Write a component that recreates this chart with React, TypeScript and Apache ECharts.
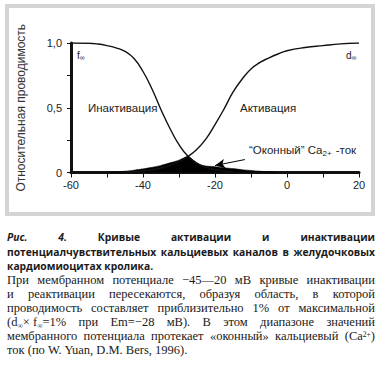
import React, { useEffect, useRef } from "react";
import * as echarts from "echarts";

// ---- data ----
const voltF = [-60, -55, -52.5, -50, -47.5, -45, -42.5, -40, -37.5, -35, -32.5, -30, -27.5, -25, -22.5, -20, -17.5, -15];
const inactivation = [1.0, 0.998, 0.992, 0.98, 0.963, 0.935, 0.88, 0.78, 0.645, 0.485, 0.34, 0.215, 0.125, 0.07, 0.04, 0.022, 0.012, 0.006];

const voltD = [-45, -40, -35, -32.5, -30, -27.5, -25, -22.5, -20, -17.5, -15, -12.5, -10, -7.5, -5, -2.5, 0, 5, 10, 15, 20];
const activation = [0.003, 0.012, 0.035, 0.055, 0.085, 0.125, 0.18, 0.26, 0.37, 0.49, 0.62, 0.72, 0.8, 0.85, 0.885, 0.915, 0.94, 0.965, 0.98, 0.993, 1.0];

const voltW = [-50, -47.5, -45, -42.5, -40, -37.5, -35, -32.5, -30, -27.5, -26, -25, -24, -22.5, -20, -17.5, -15, -12.5, -10, -7.5, -5, -2.5];
const windowCurrent = [0, 0.004, 0.01, 0.018, 0.028, 0.04, 0.055, 0.075, 0.095, 0.125, 0.095, 0.075, 0.06, 0.05, 0.045, 0.037, 0.03, 0.022, 0.016, 0.01, 0.005, 0];

const arrowFrom = [-11.7, 0.1];
const arrowTo = [-20, 0.054];

const xLabels = ["-60", "-40", "-20", "0", "20"];
const yLabels: Record<string, string> = { "0": "0", "0.5": "0,5", "1": "1,0" };

const yAxisTitle = "Относительная проводимость";
const labelInact = "Инактивация";
const labelAct = "Активация";

const titleLines: string[][] = [
  ["*Рис.", "*4.", "Кривые", "активации", "и", "инактивации"],
  ["потенциалчувствительных", "кальциевых", "каналов", "в", "желудочковых"],
];
const titleLast = "кардиомиоцитах кролика.";

const bodyLines: string[][] = [
  ["При", "мембранном", "потенциале", "−45—20", "мВ", "кривые", "инактивации"],
  ["и", "реактивации", "пересекаются,", "образуя", "область,", "в", "которой"],
  ["проводимость", "составляет", "приблизительно", "1%", "от", "максимальной"],
  ["(d_{∞}× f_{∞}=1%", "при", "Em=−28", "мВ).", "В", "этом", "диапазоне", "значений"],
  ["мембранного", "потенциала", "протекает", "«оконный»", "кальциевый", "(Ca^{2+})"],
];
const bodyLast = "ток (по W. Yuan, D.M. Bers, 1996).";

const SANS = "'Liberation Sans', Arial, Helvetica, sans-serif";

function renderWord(w: string) {
  const parts = w.split(/(_\{[^}]*\}|\^\{[^}]*\})/).filter((p) => p.length > 0);
  return parts.map((p, i) => {
    if (p.startsWith("_{"))
      return (
        <span key={i} style={{ fontSize: "0.6em", position: "relative", top: "0.2em" }}>
          {p.slice(2, -1)}
        </span>
      );
    if (p.startsWith("^{"))
      return (
        <span key={i} style={{ fontSize: "0.6em", position: "relative", top: "-0.35em" }}>
          {p.slice(2, -1)}
        </span>
      );
    return <React.Fragment key={i}>{p}</React.Fragment>;
  });
}

function Chart() {
  const ref = useRef<HTMLDivElement>(null);
  useEffect(() => {
    if (!ref.current) return;
    const chart = echarts.init(ref.current, null, { renderer: "svg" });
    const toPairs = (xs: number[], ys: number[]) => xs.map((x, i) => [x, ys[i]]);
    chart.setOption({
      animation: false,
      backgroundColor: "#ffffff",
      grid: { left: 71, right: 22, top: 43, bottom: 195.5, containLabel: false },
      xAxis: {
        type: "value",
        min: -60,
        max: 20,
        interval: 10,
        axisLine: { show: true, onZero: false, lineStyle: { color: "#111", width: 3 } },
        axisTick: { show: true, inside: false, length: 5, lineStyle: { color: "#111", width: 1 } },
        splitLine: { show: false },
        axisLabel: {
          margin: 7,
          color: "#222",
          fontSize: 11,
          fontFamily: SANS,
          formatter: (v: number) => (xLabels.includes(String(v)) ? String(v) : ""),
        },
      },
      yAxis: {
        type: "value",
        min: 0,
        max: 1,
        interval: 0.25,
        name: yAxisTitle,
        nameLocation: "middle",
        nameGap: 44,
        nameTextStyle: { color: "#333", fontSize: 12, fontFamily: SANS },
        axisLine: { show: true, onZero: false, lineStyle: { color: "#111", width: 3 } },
        axisTick: { show: true, inside: false, length: 4, lineStyle: { color: "#111", width: 1 } },
        splitLine: { show: false },
        axisLabel: {
          margin: 9,
          color: "#222",
          fontSize: 11,
          fontFamily: SANS,
          formatter: (v: number) => yLabels[String(v)] ?? "",
        },
      },
      series: [
        {
          type: "line",
          data: toPairs(voltW, windowCurrent),
          smooth: 0.2,
          symbol: "none",
          lineStyle: { width: 0.5, color: "#000" },
          areaStyle: { color: "#000", opacity: 1 },
          z: 3,
          markLine: {
            silent: true,
            symbol: ["none", "arrow"],
            symbolSize: [7, 10],
            label: { show: false },
            lineStyle: { color: "#000", width: 1, type: "solid" },
            data: [[{ coord: arrowFrom }, { coord: arrowTo }]],
          },
        },
        {
          type: "line",
          data: toPairs(voltF, inactivation),
          smooth: true,
          symbol: "none",
          lineStyle: { width: 1.4, color: "#111" },
          z: 4,
        },
        {
          type: "line",
          data: toPairs(voltD, activation),
          smooth: true,
          symbol: "none",
          lineStyle: { width: 1.4, color: "#111" },
          z: 4,
        },
      ],
      graphic: [
        {
          type: "rect",
          shape: { x: 7, y: 6, width: 366, height: 208 },
          style: { fill: "none", stroke: "#d4d4d4", lineWidth: 4 },
          silent: true,
        },
        {
          type: "text",
          x: 77,
          y: 55,
          style: {
            text: "{a|f}{s|∞}",
            verticalAlign: "middle",
            rich: {
              a: { fontSize: 10, fontFamily: SANS, fill: "#222" },
              s: { fontSize: 7, fontFamily: SANS, fill: "#222", padding: [4, 0, 0, 0] },
            },
          },
        },
        {
          type: "text",
          x: 346,
          y: 55,
          style: {
            text: "{a|d}{s|∞}",
            verticalAlign: "middle",
            rich: {
              a: { fontSize: 10, fontFamily: SANS, fill: "#222" },
              s: { fontSize: 7, fontFamily: SANS, fill: "#222", padding: [4, 0, 0, 0] },
            },
          },
        },
        {
          type: "text",
          x: 88,
          y: 108,
          style: { text: labelInact, fontSize: 11.5, fontFamily: SANS, fill: "#222", verticalAlign: "middle" },
        },
        {
          type: "text",
          x: 240,
          y: 108,
          style: { text: labelAct, fontSize: 11.5, fontFamily: SANS, fill: "#222", verticalAlign: "middle" },
        },
        {
          type: "text",
          x: 249,
          y: 150,
          style: {
            text: "{a|“Оконный” Ca}{s|2+}{a| -ток}",
            verticalAlign: "middle",
            rich: {
              a: { fontSize: 11.5, fontFamily: SANS, fill: "#222" },
              s: { fontSize: 8, fontFamily: SANS, fill: "#222", padding: [6, 1, 0, 0] },
            },
          },
        },
      ],
    });
    return () => chart.dispose();
  }, []);
  return <div ref={ref} style={{ position: "absolute", left: 0, top: 0, width: 381, height: 368 }} />;
}

export default function App() {
  const titleStyle: React.CSSProperties = {
    fontFamily: "'Open Sans', 'DejaVu Sans', sans-serif",
    fontWeight: 700,
    fontSize: 10.3,
    color: "#1a1a1a",
  };
  const bodyStyle: React.CSSProperties = {
    fontFamily: "'Liberation Serif', 'Times New Roman', serif",
    fontSize: 12.5,
    color: "#1a1a1a",
  };
  const lineBox = (top: number): React.CSSProperties => ({
    position: "absolute",
    left: 7,
    width: 368,
    top,
    height: 14,
    lineHeight: "14px",
    display: "flex",
    justifyContent: "space-between",
    whiteSpace: "nowrap",
  });
  const titleTops = [230, 245];
  const bodyTops = [273, 287, 301, 315, 329];
  return (
    <div style={{ position: "fixed", left: 0, top: 0, width: 381, height: 368, background: "#fff", overflow: "hidden" }}>
      <Chart />
      {titleLines.map((words, li) => (
        <div key={"t" + li} style={{ ...lineBox(titleTops[li]), ...titleStyle }}>
          {words.map((w, i) =>
            w.startsWith("*") ? (
              <span key={i} style={{ fontStyle: "italic" }}>{w.slice(1)}</span>
            ) : (
              <span key={i}>{w}</span>
            )
          )}
        </div>
      ))}
      <div style={{ ...lineBox(259), ...titleStyle, display: "block" }}>{titleLast}</div>
      {bodyLines.map((words, li) => (
        <div key={"b" + li} style={{ ...lineBox(bodyTops[li]), ...bodyStyle }}>
          {words.map((w, i) => (
            <span key={i}>{renderWord(w)}</span>
          ))}
        </div>
      ))}
      <div style={{ ...lineBox(343), ...bodyStyle, display: "block" }}>{bodyLast}</div>
    </div>
  );
}
